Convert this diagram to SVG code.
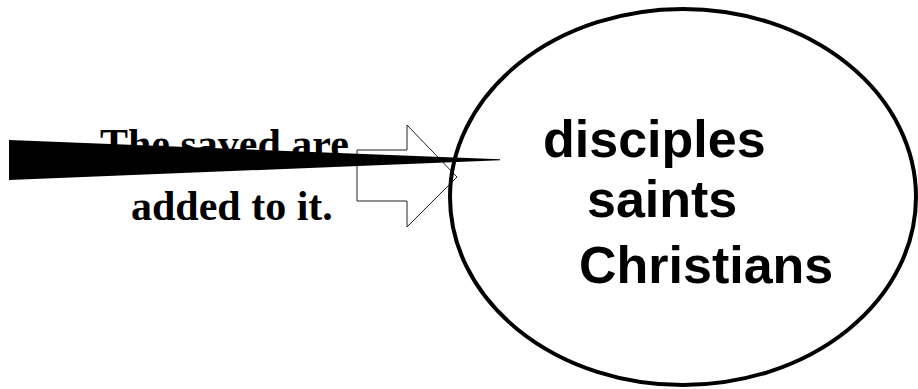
<svg xmlns="http://www.w3.org/2000/svg" width="918" height="389" viewBox="0 0 918 389">
<style>
.serif{font-family:"Liberation Serif","Times New Roman",serif;font-weight:bold;font-size:42px;fill:#000}
.sans{font-family:"Liberation Sans",Arial,sans-serif;font-weight:bold;font-size:52px;fill:#000}
</style>
<rect width="918" height="389" fill="#fff"/>
<g id="connectors">
<path id="block-arrow" d="M357,150 H407 V125 L457,177 L407,227 V201 H357 Z" fill="#fff" stroke="#222" stroke-width="1"/>
</g>
<g id="circle-node">
<ellipse cx="683" cy="197" rx="233" ry="188" fill="none" stroke="#000" stroke-width="4"/>
<text class="sans" x="543" y="157">disciples</text>
<text class="sans" x="587" y="217">saints</text>
<text class="sans" x="579" y="283">Christians</text>
</g>
<g id="wedge-node">
<polygon points="9,140 500,159.3 500,160.3 9,180" fill="#000"/>
</g>
<g id="label-node">
<text class="serif" x="100" y="158">The saved are</text>
<text class="serif" x="131" y="220">added to it.</text>
</g>
</svg>
